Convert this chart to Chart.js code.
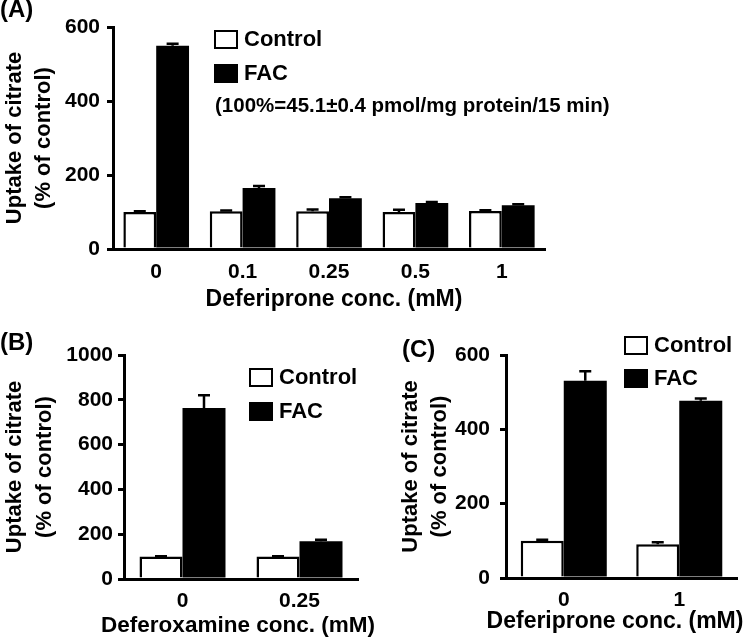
<!DOCTYPE html>
<html>
<head>
<meta charset="utf-8">
<script src="https://cdn.jsdelivr.net/npm/chart.js@4.4.1/dist/chart.umd.min.js"></script>
<style>
body { margin: 0; background: #fff; }
#wrap { position: relative; width: 750px; height: 640px; }
canvas { position: absolute; }
</style>
</head>
<body>
<div id="wrap">
<canvas id="chartA" width="750" height="320" style="left:0;top:0"></canvas>
<canvas id="chartB" width="380" height="320" style="left:0;top:320px"></canvas>
<canvas id="chartC" width="370" height="320" style="left:380px;top:320px"></canvas>
</div>
<script>
const FONT = "'Liberation Sans', Arial, sans-serif"

// panel A: deferiprone
let doseA = ["0", "0.1", "0.25", "0.5", "1"]
let controlA = [100, 102, 102, 100, 103]
let controlErrA = [2, 2, 5, 6, 2]
let facA = [549, 165, 137, 124, 118]
let facErrA = [6, 5, 3, 3, 3]

// panel B: deferoxamine
let doseB = ["0", "0.25"]
let controlB = [100, 100]
let controlErrB = [2, 2]
let facB = [763, 168]
let facErrB = [57, 7]

// panel C: deferiprone
let doseC = ["0", "1"]
let controlC = [100, 91]
let controlErrC = [3, 5]
let facC = [531, 477]
let facErrC = [25, 6]

let yTitle = ["Uptake of citrate", "(% of control)"]

Chart.defaults.font.family = FONT
Chart.defaults.font.weight = "bold"
Chart.defaults.color = "#000"
Chart.defaults.animation = false

// one-sided SE bars on top of each bar
let errorBars = {
    id: "errorBars",
    afterDatasetsDraw(chart) {
        let ctx = chart.ctx
        let y = chart.scales.y
        chart.data.datasets.forEach((ds, i) => {
            chart.getDatasetMeta(i).data.forEach((bar, j) => {
                let top = y.getPixelForValue(ds.data[j] + ds.errors[j])
                ctx.save()
                ctx.strokeStyle = "#000"
                ctx.lineWidth = 2.5
                ctx.beginPath()
                ctx.moveTo(bar.x, bar.y)
                ctx.lineTo(bar.x, top)
                ctx.moveTo(bar.x - 6, top)
                ctx.lineTo(bar.x + 6, top)
                ctx.stroke()
                ctx.restore()
            })
        })
    }
}

// panel letter, legend boxes, note and x-axis title
// (the x title is wider than the plot, so Chart.js would squeeze it)
let panelText = {
    id: "panelText",
    afterDraw(chart, args, opts) {
        let ctx = chart.ctx
        ctx.save()
        ctx.textBaseline = "middle"
        ctx.fillStyle = "#000"
        ctx.font = "bold 24px " + FONT
        ctx.fillText(opts.tag, opts.tagX, opts.tagY)
        ctx.font = "bold 22px " + FONT
        chart.data.datasets.forEach((ds, i) => {
            let yc = opts.legendY + i * opts.legendGap
            ctx.fillStyle = ds.backgroundColor
            ctx.fillRect(opts.legendX, yc - 8, 22, 17)
            ctx.strokeStyle = "#000"
            ctx.lineWidth = 2
            ctx.strokeRect(opts.legendX, yc - 8, 22, 17)
            ctx.fillStyle = "#000"
            ctx.fillText(ds.label, opts.legendX + 29, yc + 1)
        })
        if (opts.note) {
            ctx.font = "bold 20.5px " + FONT
            ctx.fillText(opts.note, opts.noteX, opts.noteY)
        }
        ctx.font = "bold " + opts.xTitleSize + "px " + FONT
        ctx.textAlign = "center"
        ctx.fillText(opts.xTitle, opts.xTitleX, opts.xTitleY)
        ctx.restore()
    }
}

function makeChart(id, labels, control, controlErr, fac, facErr, cfg) {
    let canvas = document.querySelector(id)
    return new Chart(canvas.getContext("2d"), {
        type: "bar",
        data: {
            labels: labels,
            datasets: [{
                label: "Control",
                data: control,
                errors: controlErr,
                backgroundColor: "#fff",
                borderColor: "#000",
                borderWidth: 2.5
            }, {
                label: "FAC",
                data: fac,
                errors: facErr,
                backgroundColor: "#000",
                borderColor: "#000",
                borderWidth: 0
            }]
        },
        options: {
            responsive: false,
            categoryPercentage: cfg.catPct,
            barPercentage: 1,
            layout: { padding: { top: cfg.top, right: canvas.width - cfg.right, left: 0, bottom: 0 } },
            plugins: {
                legend: { display: false },
                tooltip: { enabled: false },
                panelText: cfg.text
            },
            scales: {
                x: {
                    grid: { display: false },
                    border: { display: true, width: 3, color: "#000" },
                    ticks: { padding: cfg.xTickPad, font: { size: cfg.tickSize, weight: "bold" }, color: "#000" },
                    afterFit(s) { s.height = canvas.height - cfg.bottom }
                },
                y: {
                    min: 0,
                    max: cfg.max,
                    ticks: {
                        stepSize: 200, padding: cfg.yTickPad, color: "#000",
                        font: { size: cfg.tickSize, weight: "bold" },
                        callback: v => String(v)
                    },
                    grid: { drawOnChartArea: false, drawTicks: true, tickLength: 6, lineWidth: 3, color: "#000" },
                    border: { display: true, width: 3, color: "#000" },
                    title: {
                        display: true, text: yTitle, color: "#000",
                        font: { size: cfg.yTitleSize, weight: "bold", lineHeight: cfg.yTitleLh },
                        padding: { top: cfg.yTitlePad, bottom: 0 }
                    },
                    afterFit(s) { s.width = cfg.left }
                }
            }
        },
        plugins: [errorBars, panelText]
    })
}

makeChart("#chartA", doseA, controlA, controlErrA, facA, facErrA, {
    left: 113, right: 545, top: 27, bottom: 249, max: 600, catPct: 0.76,
    tickSize: 21, yTickPad: 7, xTickPad: 3,
    yTitleSize: 22, yTitleLh: 1.3, yTitlePad: 1,
    text: { tag: "(A)", tagX: 0, tagY: 10, legendX: 215, legendY: 39, legendGap: 34,
            note: "(100%=45.1\u00b10.4 pmol/mg protein/15 min)", noteX: 215, noteY: 106,
            xTitle: "Deferiprone conc. (mM)", xTitleSize: 23, xTitleX: 334, xTitleY: 300 }
})

makeChart("#chartB", doseB, controlB, controlErrB, facB, facErrB, {
    left: 124, right: 358, top: 35, bottom: 259, max: 1000, catPct: 0.735,
    tickSize: 21, yTickPad: 5, xTickPad: 2,
    yTitleSize: 22, yTitleLh: 1.36, yTitlePad: 0,
    text: { tag: "(B)", tagX: 0, tagY: 23, legendX: 250, legendY: 57, legendGap: 34,
            xTitle: "Deferoxamine conc. (mM)", xTitleSize: 22.5, xTitleX: 238, xTitleY: 306 }
})

makeChart("#chartC", doseC, controlC, controlErrC, facC, facErrC, {
    left: 126, right: 357, top: 35, bottom: 258, max: 600, catPct: 0.745,
    tickSize: 21, yTickPad: 10, xTickPad: 2,
    yTitleSize: 22, yTitleLh: 1.3, yTitlePad: 17,
    text: { tag: "(C)", tagX: 22, tagY: 30, legendX: 245, legendY: 25, legendGap: 33,
            xTitle: "Deferiprone conc. (mM)", xTitleSize: 23, xTitleX: 235, xTitleY: 302 }
})
</script>
</body>
</html>
